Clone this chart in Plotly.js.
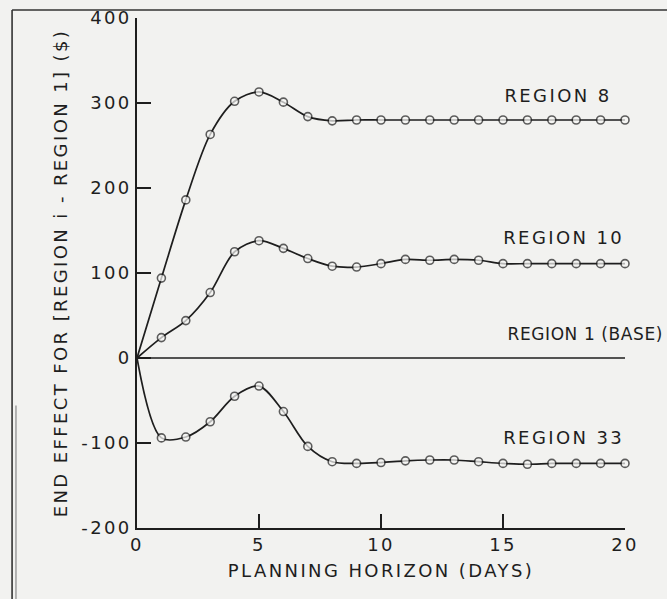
<!DOCTYPE html>
<html>
<head>
<meta charset="utf-8">
<script src="https://cdn.plot.ly/plotly-3.0.1.min.js"></script>
<style>
  html, body { margin: 0; padding: 0; background: #f2f2f0; }
  #chart { width: 667px; height: 599px; }
  #chart text { letter-spacing: 2.4px; }
  #chart g.annotation[data-index="2"] text { letter-spacing: 0.6px; }
</style>
</head>
<body>
<div id="chart"></div>
<script>
// ---- data ----
const days = [0,1,2,3,4,5,6,7,8,9,10,11,12,13,14,15,16,17,18,19,20];
const region8  = [0, 94, 186, 263, 302, 313, 301, 284, 279, 280, 280, 280, 280, 280, 280, 280, 280, 280, 280, 280, 280];
const region10 = [0, 24, 44, 77, 125, 138, 129, 117, 108, 107, 111, 116, 115, 116, 115, 111, 111, 111, 111, 111, 111];
const region1  = [0, 0, 0, 0, 0, 0, 0, 0, 0, 0, 0, 0, 0, 0, 0, 0, 0, 0, 0, 0, 0];
const region33 = [0, -94, -93, -75, -45, -33, -63, -104, -122, -124, -123, -121, -120, -120, -122, -124, -125, -124, -124, -124, -124];

const yTickVals = [-200, -100, 0, 100, 200, 300, 400];
const yTickText = ['-200', '-100', '0', '100', '200', '300', '400'];
const xTickVals = [0, 5, 10, 15, 20];
const xTickText = ['0', '5', '10', '15', '20'];

const labelNames = ['REGION 8', 'REGION 10', 'REGION 1 (BASE)', 'REGION 33'];

// ---- styling ----
const ink = '#1e1e1e';
const bg = '#f2f2f0';
const fontFam = 'DejaVu Sans, sans-serif';
const markerSizes = days.map((d, i) => (i === 0 ? 0 : 8));

function curve(name, ys) {
  return {
    x: days, y: ys, name: name, type: 'scatter', mode: 'lines+markers',
    line: { color: ink, width: 1.7, shape: 'spline', smoothing: 0.9 },
    marker: { symbol: 'circle', size: markerSizes, color: '#f7f7f5', line: { color: ink, width: 1.6 } },
    hoverinfo: 'x+y', cliponaxis: false
  };
}

const traces = [
  curve(labelNames[0], region8),
  curve(labelNames[1], region10),
  { x: days, y: region1, name: labelNames[2], type: 'scatter', mode: 'lines',
    line: { color: ink, width: 1.7 } },
  curve(labelNames[3], region33)
];

const labelPos = [
  { x: 15.38, y: 309, size: 18 },
  { x: 15.38, y: 142, size: 18 },
  { x: 15.3, y: 28, size: 17 },
  { x: 15.38, y: -93, size: 18 }
];

const annotations = labelNames.map((t, i) => ({
  text: t, x: labelPos[i].x, y: labelPos[i].y, xref: 'x', yref: 'y',
  xanchor: 'left', yanchor: 'middle', showarrow: false,
  font: { family: fontFam, size: labelPos[i].size, color: ink }
}));

const layout = {
  width: 667, height: 599,
  paper_bgcolor: bg, plot_bgcolor: bg,
  showlegend: false,
  margin: { l: 137, r: 42, t: 18, b: 71 },
  font: { family: fontFam, color: ink },
  xaxis: {
    range: [0, 20], tickmode: 'array', tickvals: xTickVals, ticktext: xTickText,
    ticks: 'inside', ticklen: 14, tickwidth: 1.7, tickcolor: ink,
    showline: true, linecolor: ink, linewidth: 1.7, showgrid: false, zeroline: false,
    tickfont: { family: fontFam, size: 18, color: ink },
    title: { text: 'PLANNING HORIZON (DAYS)', font: { family: fontFam, size: 18, color: ink }, standoff: 10 }
  },
  yaxis: {
    range: [-200, 400], tickmode: 'array', tickvals: yTickVals, ticktext: yTickText,
    ticks: 'inside', ticklen: 14, tickwidth: 1.7, tickcolor: ink,
    showline: true, linecolor: ink, linewidth: 1.7, showgrid: false, zeroline: false,
    tickfont: { family: fontFam, size: 18, color: ink },
    title: { text: 'END EFFECT FOR [REGION i - REGION 1] ($)', font: { family: fontFam, size: 18, color: ink }, standoff: 18 }
  },
  annotations: annotations,
  shapes: [
    // outer frame of the figure
    { type: 'line', xref: 'paper', yref: 'paper', x0: -0.256, x1: 1.2, y0: 1.0157, y1: 1.0157, line: { color: '#333', width: 1.6 } },
    { type: 'line', xref: 'paper', yref: 'paper', x0: -0.256, x1: -0.256, y0: 1.0157, y1: -0.2, line: { color: '#333', width: 1.6 } },
    { type: 'line', xref: 'paper', yref: 'paper', x0: -0.248, x1: -0.248, y0: 0.24, y1: -0.2, line: { color: '#888', width: 1.2 } }
  ]
};

Plotly.newPlot('chart', traces, layout, { displayModeBar: false, staticPlot: true });
</script>
</body>
</html>
